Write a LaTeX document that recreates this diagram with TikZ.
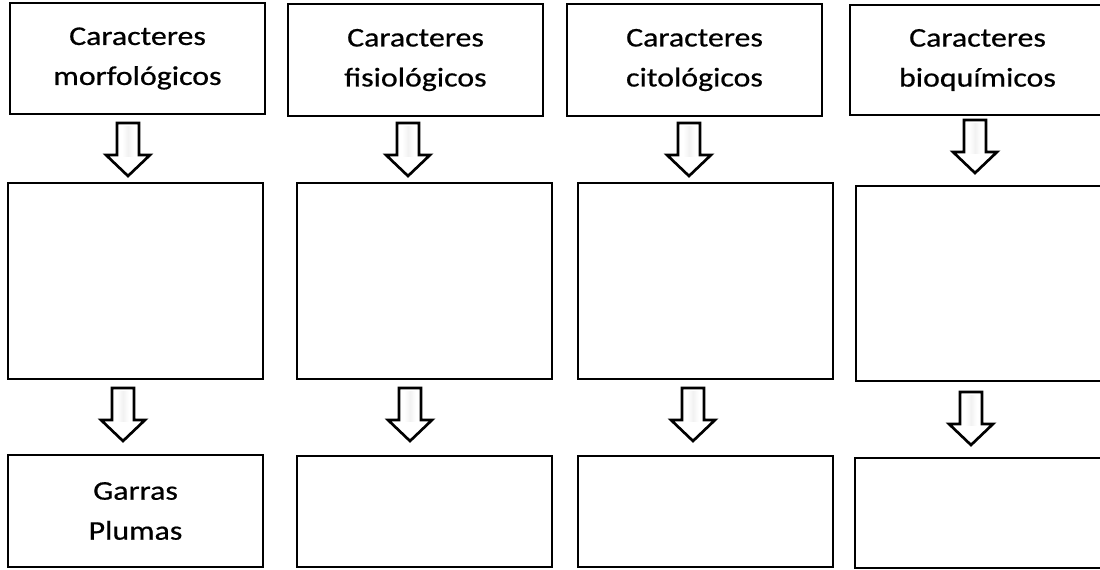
\documentclass[tikz,border=0pt]{standalone}
\usepackage{fontspec}
\newfontfamily\boxfont[FakeStretch=1.18,FakeBold=0.6]{Carlito}
\tikzset{every node/.style={font=\boxfont\fontsize{20.25}{30}\selectfont},
         box/.style 2 args={draw,line width=2pt,inner sep=0pt,align=center,
                            minimum width=#1*0.75pt,minimum height=#2*0.75pt},
         hollow arrow/.pic={
            \fill[white] (-11,0) -- (11,0) -- (11,32) -- (22,32) -- (0,53)
                -- (-22,32) -- (-11,32) -- cycle;
            \shade[left color=white,right color=white,middle color=gray!10]
                (-6,3) rectangle (6,33);
            \draw[line width=2pt,line join=miter] (-11,0) -- (11,0) -- (11,32)
                -- (22,32) -- (0,53) -- (-22,32) -- (-11,32) -- cycle;
         }}

\begin{document}
\begin{tikzpicture}[x=0.75pt,y=-0.75pt]
    \clip (0,0) rectangle (1100,569);
    \fill[white] (0,0) rectangle (1100,569);

    % top row
    \node[box={255}{111}] (mor) at (137.5,58.5) {Caracteres\\morfológicos};
    \node[box={255}{112}] (fis) at (415.5,60) {Caracteres\\fisiológicos};
    \node[box={255}{112}] (cit) at (694.5,60) {Caracteres\\citológicos};
    \node[box={255}{110}] (bio) at (977.5,60) {Caracteres\\bioquímicos};

    % middle row
    \node[box={255}{196}] (mor-mid) at (135.5,281) {};
    \node[box={255}{196}] (fis-mid) at (424.5,281) {};
    \node[box={255}{196}] (cit-mid) at (705.5,281) {};
    \node[box={255}{195}] (bio-mid) at (983.5,283.5) {};

    % bottom row
    \node[box={255}{112}] (mor-low) at (135.5,511) {Garras\\Plumas};
    \node[box={255}{111}] (fis-low) at (424.5,511.5) {};
    \node[box={255}{111}] (cit-low) at (705.5,511.5) {};
    \node[box={255}{110}] (bio-low) at (982.5,513) {};

    \pic at (128,123) {hollow arrow};
    \pic at (408,123) {hollow arrow};
    \pic at (689,123) {hollow arrow};
    \pic at (975,120) {hollow arrow};

    \pic at (123,388) {hollow arrow};
    \pic at (410,388) {hollow arrow};
    \pic at (693,388) {hollow arrow};
    \pic at (971,392) {hollow arrow};
\end{tikzpicture}
\end{document}
